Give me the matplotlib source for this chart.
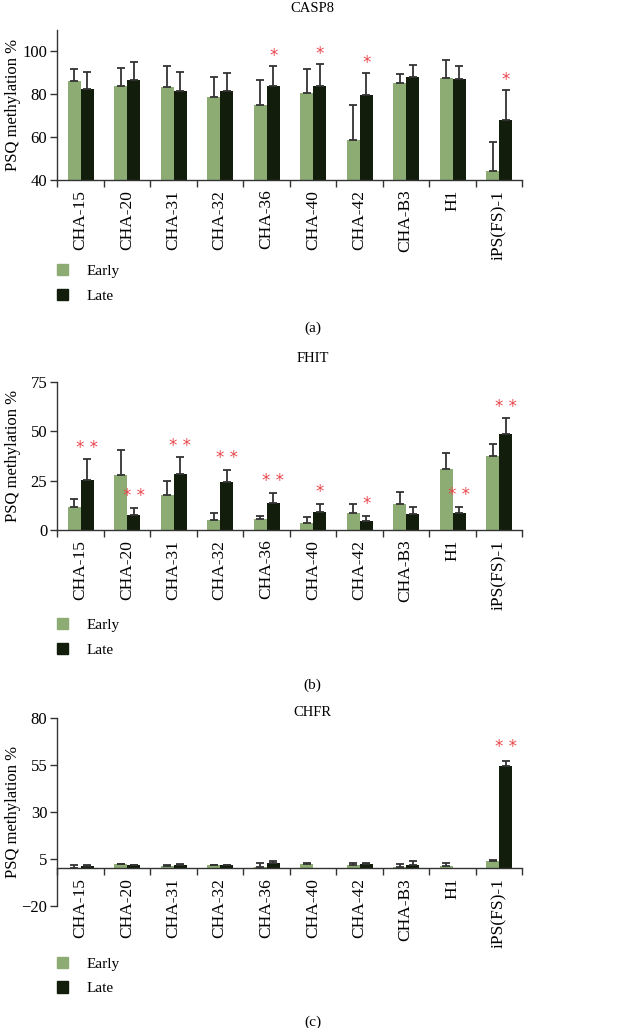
import numpy as np
import matplotlib
matplotlib.use("Agg")
import matplotlib.pyplot as plt
from matplotlib.patches import Patch

plt.rcParams["font.family"] = ["Liberation Serif", "DejaVu Serif"]

categories = ["CHA-15", "CHA-20", "CHA-31", "CHA-32", "CHA-36", "CHA-40",
              "CHA-42", "CHA-B3", "H1", "iPS(FS)-1"]

casp8_early = [85.9, 83.9, 83.4, 78.4, 74.8, 80.3, 58.8, 85.2, 87.6, 44.0]
casp8_early_err = [5.5, 8.1, 9.7, 9.3, 11.8, 11.1, 16.2, 3.9, 8.1, 13.7]
casp8_late = [82.2, 86.7, 81.4, 81.6, 83.8, 83.9, 79.7, 87.7, 87.1, 67.8]
casp8_late_err = [8.1, 8.0, 8.9, 8.1, 9.3, 10.0, 10.1, 5.9, 6.1, 14.2]
casp8_sig = ["", "", "", "", "*", "*", "*", "", "", "*"]

fhit_early = [11.5, 27.8, 17.6, 4.9, 5.4, 3.6, 8.5, 13.1, 30.9, 37.7]
fhit_early_err = [4.4, 12.5, 7.0, 3.9, 1.9, 3.2, 4.9, 6.4, 8.3, 5.9]
fhit_late = [25.3, 7.8, 28.6, 24.1, 13.9, 9.3, 4.7, 8.3, 8.4, 48.8]
fhit_late_err = [10.5, 3.2, 8.2, 6.4, 4.9, 4.1, 2.6, 3.2, 3.4, 7.8]
fhit_sig = ["**", "**", "**", "**", "**", "*", "*", "", "**", "**"]

chfr_early = [0.3, 2.1, 1.5, 1.7, 0.5, 2.3, 1.9, 1.0, 1.4, 4.1]
chfr_early_err = [1.4, 0.2, 0.2, 0.2, 2.5, 0.8, 1.1, 1.6, 1.3, 0.2]
chfr_late = [1.5, 1.7, 1.7, 1.7, 2.8, 0.2, 2.3, 1.9, 0.2, 54.3]
chfr_late_err = [0.2, 0.1, 0.4, 0.2, 1.0, 0.0, 0.8, 2.1, 0.0, 3.0]
chfr_sig = ["", "", "", "", "", "", "", "", "", "**"]

EARLY = "#8dac74"
LATE = "#131d0b"
ERR = "#333333"
RED = "#e8474c"
W = 0.28

fig = plt.figure(figsize=(6.25, 10.28), dpi=100, facecolor="white")
H = 1028.0
L, R = 57 / 625, 522 / 625


def panel(top_px, bot_px, early, e_err, late, l_err, sig, ylim, yticks,
          title, title_px, star_off, zero_spine=False):
    ax = fig.add_axes([L, 1 - bot_px / H, R - L, (bot_px - top_px) / H])
    for s in ("top", "right"):
        ax.spines[s].set_visible(False)
    for s in ("left", "bottom"):
        ax.spines[s].set_color(ERR)
        ax.spines[s].set_linewidth(1)
    if zero_spine:
        ax.spines["bottom"].set_position(("data", 0))
    x = np.arange(len(categories)) + 0.51
    ax.bar(x - W / 2, early, W, color=EARLY, zorder=2)
    ax.bar(x + W / 2, late, W, color=LATE, zorder=2)
    for xs, m, e in ((x - W / 2, early, e_err), (x + W / 2, late, l_err)):
        m = np.array(m)
        e = np.array(e)
        k = e > 0.05
        ax.errorbar(xs[k], m[k], yerr=[np.zeros(k.sum()), e[k]], fmt="none",
                    ecolor=ERR, elinewidth=1.3, capsize=3.0, capthick=1.3, zorder=3)
    tops = np.array(late) + np.array(l_err)
    for xi, t, s in zip(x + W / 2, tops, sig):
        if s:
            ax.annotate(" ".join(s), (xi, t), xytext=(0, star_off),
                        textcoords="offset points", ha="center", va="center",
                        color=RED, fontsize=12, family="DejaVu Sans")
    ax.set_xlim(0, len(categories))
    ax.set_ylim(*ylim)
    ax.set_yticks(yticks)
    ax.set_xticks(np.arange(len(categories) + 1))
    ax.set_xticklabels([])
    ax.set_xticks(np.arange(len(categories)) + 0.5, minor=True)
    ax.set_xticklabels(categories, minor=True, rotation=90, fontsize=12.5)
    ax.tick_params(axis="x", which="minor", length=0, pad=7)
    ax.tick_params(axis="x", which="major", length=5, width=1, color=ERR)
    ax.tick_params(axis="y", length=5, width=1, color=ERR, labelsize=12, pad=2)
    ax.set_ylabel("PSQ methylation %", fontsize=12)
    ax.yaxis.set_label_coords(-0.078, 0.5)
    fig.text(0.5, 1 - title_px / H, title, ha="center", va="center", fontsize=10.5)
    return ax


def legend(center_px, caption, caption_px):
    handles = [Patch(color=EARLY), Patch(color=LATE)]
    fig.legend(handles, ["Early", "Late"], loc="center left",
               bbox_to_anchor=(57 / 625, 1 - center_px / H), frameon=False,
               fontsize=11, handlelength=0.75, handleheight=0.75,
               handletextpad=1.2, labelspacing=0.7, borderpad=0, borderaxespad=0)
    fig.text(0.5, 1 - caption_px / H, caption, ha="center", va="center", fontsize=11)


panel(29.5, 180, casp8_early, casp8_early_err, casp8_late, casp8_late_err,
      casp8_sig, (40, 110), [40, 60, 80, 100], "CASP8", 8, 7)
legend(283.5, "(a)", 328)

panel(382, 530, fhit_early, fhit_early_err, fhit_late, fhit_late_err,
      fhit_sig, (0, 75), [0, 25, 50, 75], "FHIT", 358, 8.5)
legend(637.5, "(b)", 685)

panel(718, 906, chfr_early, chfr_early_err, chfr_late, chfr_late_err,
      chfr_sig, (-20, 80), [-20, 5, 30, 55, 80], "CHFR", 712, 10, zero_spine=True)
legend(976, "(c)", 1022)

fig.savefig("out.png", dpi=100, facecolor="white")
